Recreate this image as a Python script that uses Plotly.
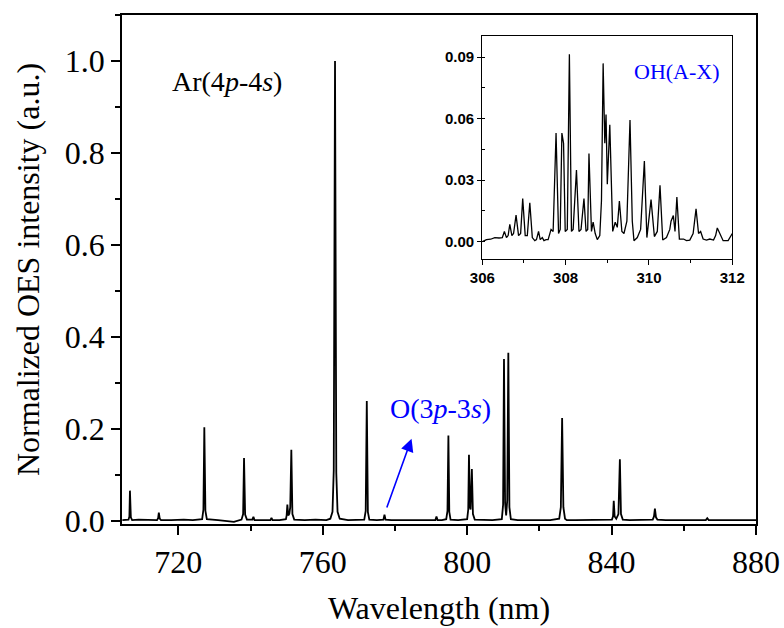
import plotly.graph_objects as go

# ---------------- main spectrum (wavelength nm, normalized intensity) ----------------
main_wl = [
    704.5, 705.5, 706.2, 706.45, 706.6, 706.85, 707.2,
    709.0, 711.5, 714.1, 714.4, 714.6, 714.85, 715.2,
    718.0, 721.5, 724.0, 726.6, 726.95, 727.2, 727.5, 727.9,
    731.0, 735.4, 737.5, 737.95, 738.2, 738.5, 739.0,
    740.5, 740.8, 741.1, 743.0, 745.5, 745.8, 746.1, 748.0,
    749.8, 750.0, 750.2, 750.45, 750.75, 751.0, 751.3, 751.6, 752.1,
    755.0, 758.0, 761.0, 762.1, 762.7, 763.05, 763.4, 763.75, 764.1, 764.7,
    767.0, 770.0, 771.5, 771.9, 772.2, 772.5, 772.9,
    775.0, 776.8, 777.1, 777.4, 779.0, 782.0, 785.0, 788.0,
    791.2, 791.5, 791.8, 793.0, 794.2, 794.55, 794.8, 795.05, 795.4,
    797.5, 800.0, 800.3, 800.5, 800.75, 800.95, 801.3, 801.6, 802.1,
    804.0, 807.0, 809.6, 809.95, 810.2, 810.5, 810.8, 811.1, 811.4, 811.7, 812.1,
    814.0, 817.0, 820.0, 823.0, 825.5, 825.95, 826.3, 826.65, 827.1, 827.6,
    830.0, 833.0, 836.0, 839.0, 840.1, 840.4, 840.6, 840.85, 841.3,
    841.9, 842.3, 842.6, 843.1, 845.0, 848.0,
    851.4, 851.75, 852.0, 852.3, 852.7, 855.0, 858.0,
    861.0, 864.0, 866.1, 866.5, 866.9, 869.0, 872.0, 875.0, 878.0, 880.0,
]
main_int = [
    0.002, 0.002, 0.003, 0.010, 0.066, 0.008, 0.002,
    0.003, 0.002, 0.002, 0.006, 0.018, 0.005, 0.002,
    0.002, 0.003, 0.002, 0.004, 0.025, 0.204, 0.022, 0.004,
    0.002, -0.002, 0.003, 0.015, 0.137, 0.014, 0.003,
    0.003, 0.009, 0.002, 0.002, 0.002, 0.007, 0.002, 0.002,
    0.004, 0.012, 0.036, 0.012, 0.016, 0.030, 0.155, 0.015, 0.003,
    0.002, 0.003, 0.002, 0.005, 0.020, 0.110, 1.000, 0.105, 0.020, 0.005,
    0.002, 0.002, 0.003, 0.022, 0.261, 0.020, 0.003,
    0.002, 0.003, 0.014, 0.003, 0.002, 0.002, 0.001, 0.002,
    0.002, 0.010, 0.002, 0.002, 0.004, 0.022, 0.186, 0.020, 0.003,
    0.002, 0.004, 0.025, 0.144, 0.030, 0.025, 0.113, 0.015, 0.003,
    0.002, 0.002, 0.004, 0.035, 0.352, 0.040, 0.012, 0.045, 0.366, 0.030, 0.004,
    0.002, 0.002, 0.002, 0.002, 0.005, 0.030, 0.224, 0.030, 0.005, 0.002,
    0.002, 0.002, 0.002, 0.002, 0.003, 0.010, 0.044, 0.010, 0.005,
    0.015, 0.134, 0.015, 0.003, 0.002, 0.002,
    0.003, 0.010, 0.027, 0.008, 0.003, 0.002, 0.002,
    0.002, 0.002, 0.002, 0.006, 0.002, 0.002, 0.002, 0.002, 0.002, 0.002,
]

# ---------------- inset: OH(A-X) band (wavelength nm, normalized intensity) ----------------
oh_wl = [
    306.00, 306.10, 306.20, 306.30, 306.40, 306.48, 306.53, 306.58, 306.62, 306.66,
    306.71, 306.75, 306.81, 306.87, 306.92, 306.97, 307.03, 307.08, 307.14, 307.20,
    307.26, 307.30, 307.35, 307.39, 307.44, 307.48, 307.53, 307.58, 307.65, 307.70,
    307.77, 307.83, 307.87, 307.91, 307.95, 307.99, 308.04, 308.09, 308.14, 308.18,
    308.26, 308.32, 308.37, 308.44, 308.49, 308.53, 308.56, 308.62, 308.66, 308.71,
    308.76, 308.82, 308.86, 308.90, 308.94, 308.97, 309.00, 309.06, 309.13, 309.19,
    309.24, 309.29, 309.35, 309.40, 309.47, 309.545, 309.60, 309.64, 309.72, 309.80,
    309.89, 309.95, 310.05, 310.13, 310.20, 310.265, 310.33, 310.42, 310.50, 310.53,
    310.585, 310.625, 310.67, 310.73, 310.83, 310.90, 310.98, 311.06, 311.13, 311.19,
    311.24, 311.30, 311.38, 311.46, 311.55, 311.60, 311.64, 311.70, 311.78, 311.90,
    311.97, 312.00,
]
oh_int = [
    0.0000, 0.0010, 0.0012, 0.0020, 0.0018, 0.0020, 0.0050, 0.0020, 0.0030, 0.0085,
    0.0030, 0.0040, 0.0130, 0.0030, 0.0040, 0.0210, 0.0030, 0.0030, 0.0190, 0.0020,
    0.0005, 0.0010, 0.0050, 0.0010, 0.0020, 0.0005, 0.0010, 0.0010, 0.0060, 0.0050,
    0.0530, 0.0040, 0.0060, 0.0530, 0.0480, 0.0050, 0.0060, 0.0915, 0.0050, 0.0060,
    0.0350, 0.0050, 0.0060, 0.0210, 0.0050, 0.0060, 0.0430, 0.0050, 0.0095, 0.0040,
    0.0010, 0.0030, 0.0200, 0.0870, 0.0480, 0.0620, 0.0280, 0.0570, 0.0050, 0.0095,
    0.0070, 0.0198, 0.0050, 0.0040, 0.0100, 0.0594, 0.0100, 0.0005, 0.0020, 0.0060,
    0.0394, 0.0020, 0.0205, 0.0025, 0.0050, 0.0275, 0.0008, 0.0020, 0.0060, 0.0100,
    0.0128, 0.0050, 0.0218, 0.0013, 0.0013, 0.0005, 0.0008, 0.0040, 0.0160, 0.0040,
    0.0050, 0.0013, 0.0008, 0.0013, 0.0008, 0.0030, 0.0067, 0.0040, 0.0005, 0.0005,
    0.0030, 0.0040,
]

main_xticks = [720, 760, 800, 840, 880]
main_yticks = [0.0, 0.2, 0.4, 0.6, 0.8, 1.0]
inset_xticks = [306, 308, 310, 312]
inset_yticks = [0.00, 0.03, 0.06, 0.09]

SERIF = "Liberation Serif"
BLUE = "#0000FF"

fig = go.Figure()
fig.add_trace(go.Scatter(x=main_wl, y=main_int, mode="lines",
                         line=dict(color="black", width=1.8), xaxis="x", yaxis="y",
                         showlegend=False, hoverinfo="skip"))
fig.add_trace(go.Scatter(x=oh_wl, y=oh_int, mode="lines",
                         line=dict(color="black", width=1.3), xaxis="x2", yaxis="y2",
                         showlegend=False, hoverinfo="skip"))

axis_common = dict(showline=True, linecolor="black", mirror=True, showgrid=False,
                   zeroline=False, ticks="outside", tickcolor="black", automargin=False)

fig.update_layout(
    width=784, height=628,
    margin=dict(l=122, r=28, t=15, b=104),
    paper_bgcolor="white", plot_bgcolor="white",
    font=dict(family=SERIF, color="black"),
    xaxis=dict(**axis_common, domain=[0, 1], range=[704.4, 880], linewidth=1.6,
               tickvals=main_xticks, ticklen=9, tickwidth=1.6,
               tickfont=dict(family=SERIF, size=32),
               minor=dict(dtick=20, tick0=720, ticks="outside", ticklen=5,
                          tickwidth=1.6, tickcolor="black", showgrid=False),
               title=dict(text="Wavelength (nm)", font=dict(family=SERIF, size=32),
                          standoff=17)),
    yaxis=dict(**axis_common, domain=[0, 1], range=[-0.0065, 1.1], linewidth=1.6,
               tickvals=main_yticks, tickformat=".1f", ticklen=9, tickwidth=1.6,
               tickfont=dict(family=SERIF, size=32),
               minor=dict(dtick=0.1, tick0=0, ticks="outside", ticklen=5,
                          tickwidth=1.6, tickcolor="black", showgrid=False),
               title=dict(text="Normalized OES intensity (a.u.)",
                          font=dict(family=SERIF, size=32), standoff=16)),
    xaxis2=dict(**axis_common, domain=[0.5683, 0.9626], anchor="y2", range=[306, 312],
                linewidth=1.2, tickvals=inset_xticks, ticklen=5, tickwidth=1.2,
                tickfont=dict(family="Liberation Sans", size=15, weight="bold"),
                minor=dict(dtick=1, tick0=306, ticks="outside", ticklen=3,
                           tickwidth=1.2, tickcolor="black", showgrid=False)),
    yaxis2=dict(**axis_common, domain=[0.520, 0.9593], anchor="x2", range=[-0.0086, 0.1005],
                linewidth=1.2, tickvals=inset_yticks, tickformat=".2f", ticklen=4,
                tickwidth=1.2,
                tickfont=dict(family="Liberation Sans", size=15, weight="bold"),
                minor=dict(dtick=0.015, tick0=0, ticks="inside", ticklen=3,
                           tickwidth=1.2, tickcolor="black", showgrid=False)),
)

fig.add_annotation(text="Ar(4<i>p</i>-4<i>s</i>)", xref="paper", yref="paper",
                   x=(170 - 122) / 634, y=(524 - 82) / 509, xanchor="left", yanchor="middle",
                   showarrow=False, font=dict(family=SERIF, size=28, color="black"))
fig.add_annotation(text="O(3<i>p</i>-3<i>s</i>)", xref="paper", yref="paper",
                   x=(388 - 122) / 634, y=(524 - 408) / 509, xanchor="left", yanchor="middle",
                   showarrow=False, font=dict(family=SERIF, size=28, color=BLUE))
fig.add_annotation(text="OH(A-X)", xref="paper", yref="paper",
                   x=(632 - 122) / 634, y=(524 - 72) / 509, xanchor="left", yanchor="middle",
                   showarrow=False, font=dict(family=SERIF, size=22, color=BLUE))
# arrow pointing from the O 777 nm line up to its label
fig.add_annotation(text="", x=784.6, y=0.179, xref="x", yref="y",
                   ax=777.6, ay=0.026, axref="x", ayref="y",
                   showarrow=True, arrowhead=2, arrowsize=1.6, arrowwidth=1.6,
                   arrowcolor=BLUE)

fig.write_html("out.html", config={"displayModeBar": False},
               post_script="document.body.style.margin='0';document.body.style.padding='0';")
